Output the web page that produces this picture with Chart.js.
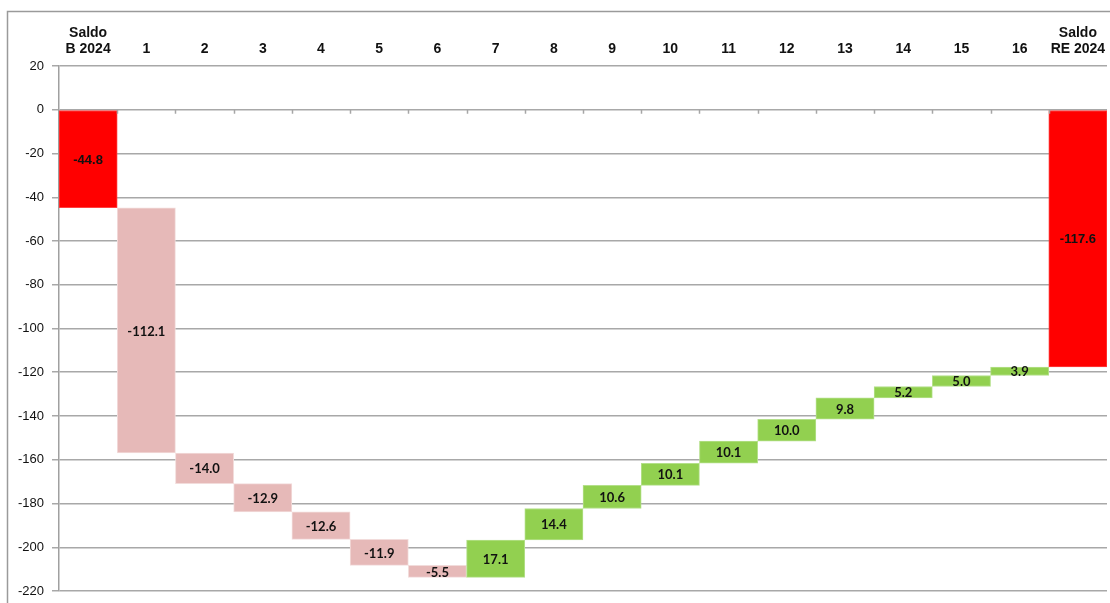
<!DOCTYPE html>
<html>
<head>
<meta charset="utf-8">
<script src="https://cdn.jsdelivr.net/npm/chart.js@4.4.1/dist/chart.umd.min.js"></script>
<style>
  html, body { margin: 0; padding: 0; background: #fff; }
  #wrap { position: relative; width: 1110px; height: 603px; }
</style>
</head>
<body>
<div id="wrap"><canvas id="c" width="1110" height="603"></canvas></div>
<script>
// ---- data ----
const categories = [["Saldo", "B 2024"], "1", "2", "3", "4", "5", "6", "7", "8", "9", "10", "11", "12", "13", "14", "15", "16", ["Saldo", "RE 2024"]];
const startBalance = -44.8;
const changes = [-112.1, -14.0, -12.9, -12.6, -11.9, -5.5, 17.1, 14.4, 10.6, 10.1, 10.1, 10.0, 9.8, 5.2, 5.0, 3.9];
const endBalance = -117.6;
const yTickMin = -220;
const yTickMax = 20;
const yTickStep = 20;

// ---- build floating bars from the data ----
const floats = [];
const shown = [];
const kinds = [];
floats.push([0, startBalance]); shown.push(startBalance); kinds.push('total');
let running = startBalance;
changes.forEach(v => {
  const next = running + v;
  floats.push([running, next]);
  shown.push(v);
  kinds.push(v < 0 ? 'neg' : 'pos');
  running = next;
});
floats.push([0, endBalance]); shown.push(endBalance); kinds.push('total');

const fillFor = { total: '#FF0000', neg: '#E6B9B8', pos: '#92D050' };
const edgeFor = { total: '#FF4040', neg: '#F2DCDB', pos: '#B4E08A' };

const frame = {
  id: 'frame',
  beforeDraw(chart) {
    const ctx = chart.ctx;
    ctx.save();
    ctx.strokeStyle = '#9a9a9a';
    ctx.lineWidth = 1.5;
    ctx.beginPath();
    ctx.moveTo(7.5, 603);
    ctx.lineTo(7.5, 11.5);
    ctx.lineTo(1110, 11.5);
    ctx.stroke();
    ctx.restore();
  }
};

const catTicks = {
  id: 'catTicks',
  afterDatasetsDraw(chart) {
    const x = chart.scales.x, y = chart.scales.y;
    const y0 = y.getPixelForValue(0);
    const ctx = chart.ctx;
    ctx.save();
    ctx.strokeStyle = '#a6a6a6';
    ctx.lineWidth = 1.5;
    for (let i = 1; i < categories.length; i++) {
      const bx = Math.round((x.getPixelForValue(i - 1) + x.getPixelForValue(i)) / 2) + 0.5;
      ctx.beginPath();
      ctx.moveTo(bx, y0);
      ctx.lineTo(bx, y0 + 4);
      ctx.stroke();
    }
    ctx.restore();
  }
};

const valueLabels = {
  id: 'valueLabels',
  afterDatasetsDraw(chart) {
    const meta = chart.getDatasetMeta(0);
    const ctx = chart.ctx;
    ctx.save();
    ctx.textAlign = 'center';
    ctx.textBaseline = 'middle';
    ctx.fillStyle = '#111';
    meta.data.forEach((bar, i) => {
      const p = bar.getProps(['x', 'y', 'base'], true);
      const cy = (p.y + p.base) / 2;
      if (kinds[i] === 'total') {
        ctx.font = 'bold 13px "Liberation Sans", Arial, sans-serif';
      } else {
        ctx.font = 'bold 13px Lato, "Open Sans", sans-serif';
      }
      ctx.fillText(shown[i].toFixed(1), p.x, cy + 1);
    });
    ctx.restore();
  }
};

new Chart(document.getElementById('c'), {
  type: 'bar',
  data: {
    labels: categories,
    datasets: [{
      data: floats,
      backgroundColor: kinds.map(k => fillFor[k]),
      borderColor: kinds.map(k => edgeFor[k]),
      borderWidth: 1,
      borderSkipped: false,
      barPercentage: 1,
      categoryPercentage: 1
    }]
  },
  options: {
    responsive: false,
    animation: false,
    devicePixelRatio: 1,
    layout: { padding: { left: 0, right: 3, top: 0, bottom: 12 } },
    plugins: { legend: { display: false }, tooltip: { enabled: false } },
    scales: {
      x: {
        position: 'top',
        grid: { display: false },
        border: { display: false },
        ticks: {
          color: '#111',
          font: { family: '"Liberation Sans", Arial, sans-serif', size: 14, weight: 'bold', lineHeight: 1.15 },
          padding: 1,
          maxRotation: 0,
          autoSkip: false
        },
        afterFit(s) { s.height = 66; }
      },
      y: {
        min: yTickMin,
        max: yTickMax,
        ticks: {
          stepSize: yTickStep,
          color: '#111',
          font: { family: '"Liberation Sans", Arial, sans-serif', size: 13 },
          padding: 8
        },
        grid: { color: '#a8a8a8', lineWidth: 1.5, tickLength: 7 },
        border: { color: '#a0a0a0', width: 1.5 },
        afterFit(s) { s.width = 59; s.paddingTop = 0; s.paddingBottom = 0; }
      }
    }
  },
  plugins: [frame, catTicks, valueLabels]
});
</script>
</body>
</html>
